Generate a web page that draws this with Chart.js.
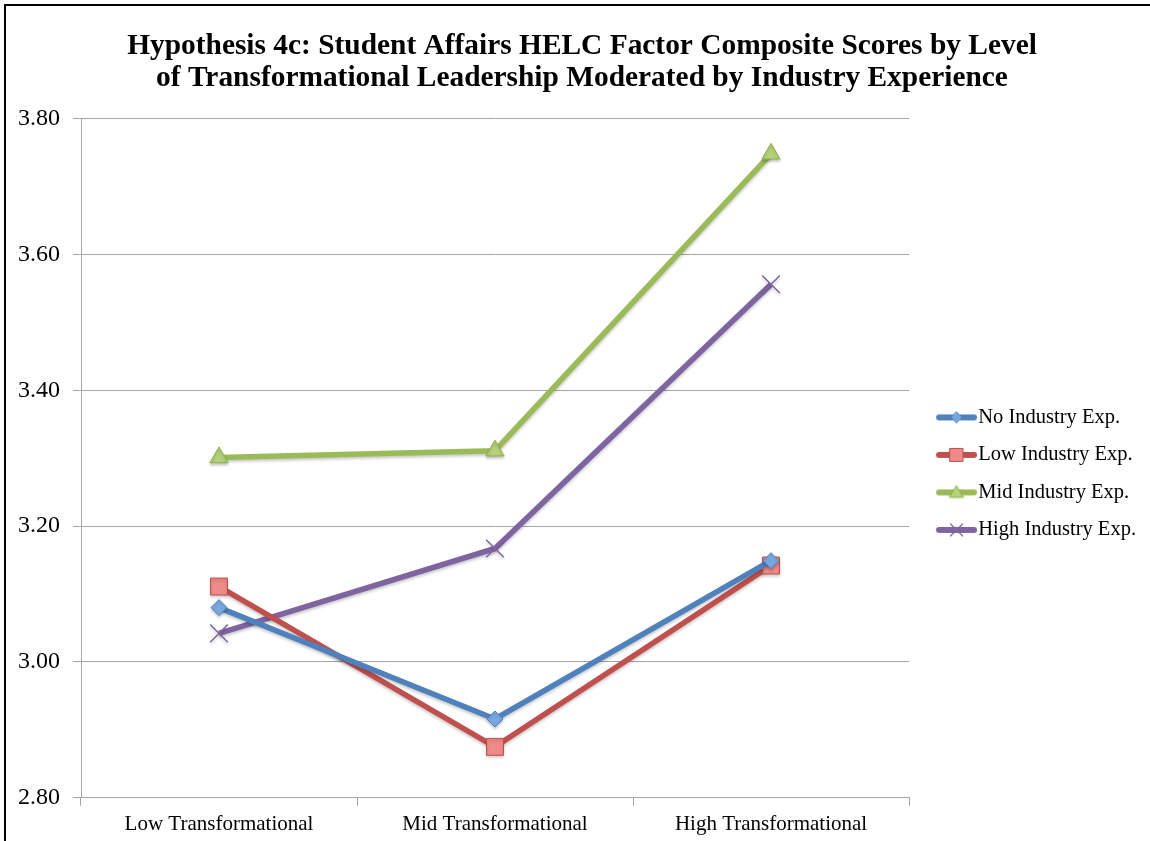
<!DOCTYPE html>
<html>
<head>
<meta charset="utf-8">
<script src="https://cdn.jsdelivr.net/npm/chart.js@4/dist/chart.umd.min.js"></script>
<style>
  html, body { margin: 0; padding: 0; background: #fff; overflow: hidden; }
  #frame {
    position: absolute; left: 4px; top: 4px;
    width: 1156px; height: 850px;
    border-top: 2px solid #000; border-left: 2px solid #000;
  }
</style>
</head>
<body>
<div id="frame"><canvas id="chart"></canvas></div>
<script>
// Categories (level of transformational leadership)
const categories = ['Low Transformational', 'Mid Transformational', 'High Transformational'];

// Series names
const seriesNames = ['No Industry Exp.', 'Low Industry Exp.', 'Mid Industry Exp.', 'High Industry Exp.'];

// Composite scores per series
const noIndustry   = [3.08, 2.916, 3.149];
const lowIndustry  = [3.111, 2.875, 3.142];
const midIndustry  = [3.301, 3.311, 3.748];
const highIndustry = [3.042, 3.167, 3.556];

// Y axis range and tick step
const yMin = 2.80;
const yMax = 3.80;
const yStep = 0.20;

const SERIF = "'Liberation Serif', 'Times New Roman', serif";

const styles = [
  { line: '#4F81BD', fill: '#79A8E0', border: '#4F81BD', shape: 'rectRot', radius: 8 },
  { line: '#C0504D', fill: '#EE8A87', border: '#C0504D', shape: 'rect', radius: 12 },
  { line: '#9BBB59', fill: '#B3D27A', border: '#8FAF4D', shape: 'triangle', radius: 10.5 },
  { line: '#8064A2', fill: '#8064A2', border: '#8064A2', shape: 'crossRot', radius: 12.5 }
];

// Small legend icon: a thick line with the series marker in its middle
function legendIcon(st) {
  const W = 62, H = 20;
  const cv = document.createElement('canvas');
  cv.width = W; cv.height = H;
  const c = cv.getContext('2d');
  const x0 = 23, x1 = 58, cy = H / 2, cx = (x0 + x1) / 2;
  c.strokeStyle = st.line; c.lineWidth = 6; c.lineCap = 'round';
  c.beginPath(); c.moveTo(x0, cy); c.lineTo(x1, cy); c.stroke();
  c.fillStyle = st.fill; c.strokeStyle = st.border; c.lineWidth = 1;
  c.beginPath();
  if (st.shape === 'rectRot') {
    c.moveTo(cx, cy - 5.5); c.lineTo(cx + 5.5, cy); c.lineTo(cx, cy + 5.5); c.lineTo(cx - 5.5, cy); c.closePath();
    c.fill(); c.stroke();
  } else if (st.shape === 'rect') {
    c.rect(cx - 6.5, cy - 6.5, 13, 13); c.fill(); c.stroke();
  } else if (st.shape === 'triangle') {
    c.moveTo(cx, cy - 6.5); c.lineTo(cx + 7, cy + 5); c.lineTo(cx - 7, cy + 5); c.closePath();
    c.fill(); c.stroke();
  } else {
    c.lineWidth = 1.2;
    c.moveTo(cx - 6, cy - 6); c.lineTo(cx + 6, cy + 6);
    c.moveTo(cx + 6, cy - 6); c.lineTo(cx - 6, cy + 6);
    c.stroke();
  }
  return cv;
}

const seriesValues = [noIndustry, lowIndustry, midIndustry, highIndustry];
const icons = styles.map(legendIcon);

const datasets = seriesNames.map((name, i) => ({
  label: name,
  data: seriesValues[i],
  borderColor: styles[i].line,
  backgroundColor: styles[i].fill,
  borderWidth: 5.5,
  tension: 0,
  pointStyle: styles[i].shape,
  pointRadius: styles[i].radius,
  pointHoverRadius: styles[i].radius,
  pointBackgroundColor: styles[i].fill,
  pointBorderColor: styles[i].border,
  pointBorderWidth: styles[i].shape === 'crossRot' ? 1.5 : 1
}));

// Soft drop shadow under the series lines and markers
const seriesShadow = {
  id: 'seriesShadow',
  beforeDatasetsDraw(chart) {
    const ctx = chart.ctx;
    ctx.save();
    ctx.shadowColor = 'rgba(0, 0, 0, 0.22)';
    ctx.shadowBlur = 3;
    ctx.shadowOffsetX = 0;
    ctx.shadowOffsetY = 2;
  },
  afterDatasetsDraw(chart) {
    chart.ctx.restore();
  }
};

new Chart(document.getElementById('chart'), {
  type: 'line',
  data: { labels: categories, datasets },
  plugins: [seriesShadow],
  options: {
    responsive: true,
    maintainAspectRatio: false,
    animation: false,
    layout: { padding: { left: 12, right: 16, top: 0, bottom: 13 } },
    plugins: {
      title: {
        display: true,
        text: ['Hypothesis 4c: Student Affairs HELC Factor Composite Scores by Level',
               'of Transformational Leadership Moderated by Industry Experience'],
        color: '#000',
        font: { family: SERIF, size: 29.4, weight: 'bold', lineHeight: 1.08 },
        padding: { top: 25, bottom: 24 }
      },
      legend: {
        position: 'right',
        fullSize: false,
        title: { display: true, text: ' ', font: { size: 10, lineHeight: 1.2 }, padding: { top: 0, bottom: 19 } },
        labels: {
          color: '#000',
          font: { family: SERIF, size: 20.5 },
          usePointStyle: true,
          pointStyleWidth: 42,
          boxHeight: 20.5,
          padding: 17,
          generateLabels: (chart) => chart.data.datasets.map((ds, i) => ({
            text: ds.label,
            fontColor: '#000',
            pointStyle: icons[i],
            fillStyle: ds.backgroundColor,
            strokeStyle: ds.borderColor,
            lineWidth: 0,
            datasetIndex: i,
            hidden: false
          }))
        }
      },
      tooltip: { enabled: false }
    },
    scales: {
      x: {
        offset: true,
        grid: { display: true, drawOnChartArea: false, offset: true, tickLength: 8, color: '#A6A6A6' },
        border: { display: true, color: '#A6A6A6', width: 1 },
        ticks: { color: '#000', font: { family: SERIF, size: 21 }, padding: 6, maxRotation: 0 }
      },
      y: {
        min: yMin,
        max: yMax,
        afterFit: (scale) => { scale.width = 63; },
        grid: { color: '#A6A6A6', tickLength: 8 },
        border: { display: true, color: '#A6A6A6', width: 1 },
        ticks: {
          stepSize: yStep,
          color: '#000',
          padding: 13,
          font: { family: SERIF, size: 24 },
          callback: (v) => Number(v).toFixed(2)
        }
      }
    }
  }
});
</script>
</body>
</html>
